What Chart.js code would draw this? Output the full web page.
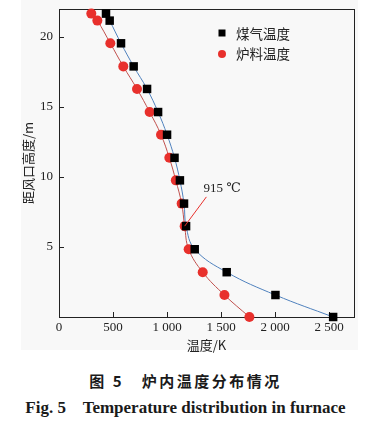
<!DOCTYPE html>
<html>
<head>
<meta charset="utf-8">
<script src="https://cdn.jsdelivr.net/npm/chart.js@4.4.1/dist/chart.umd.min.js"></script>
<style>
  html, body { margin: 0; padding: 0; background: #fff; width: 371px; height: 426px; overflow: hidden; }
  #bg { position: absolute; left: 21px; top: 0; width: 337px; height: 350px; background: #f8f8f8; }
  #wrap { position: absolute; left: 0; top: 0; width: 371px; height: 355px; }
  .cap1 { position: absolute; left: 0; width: 371px; top: 370px; text-align: center;
          font: bold 15px "Noto Sans CJK SC", sans-serif; color: #1a1a1a; letter-spacing: 2.5px; }
  .cap2 { position: absolute; left: 0; width: 371px; top: 398px; text-align: center;
          font: bold 17px "Liberation Serif", serif; color: #1a1a1a; white-space: pre; }
</style>
</head>
<body>
<div id="bg"></div>
<div id="wrap"><canvas id="c" width="371" height="355"></canvas></div>
<div class="cap1">图 5&nbsp;&nbsp;&nbsp;炉内温度分布情况</div>
<div class="cap2">Fig. 5    Temperature distribution in furnace</div>
<script>
// Data
const heights    = [21.67, 21.17, 19.55, 17.90, 16.29, 14.64, 13.02, 11.37, 9.76, 8.10, 6.49, 4.84, 3.20, 1.57, 0];
const gasTemp    = [435, 469, 574, 691, 815, 917, 1000, 1069, 1119, 1157, 1176, 1256, 1552, 2003, 2537];
const burdenTemp = [299, 355, 475, 595, 722, 839, 944, 1021, 1081, 1135, 1163, 1200, 1330, 1531, 1762];
const seriesNames = ['煤气温度', '炉料温度'];
const xTicks = [0, 500, 1000, 1500, 2000, 2500];
const yTicks = [5, 10, 15, 20];
const annotationText = '915 ℃';

const gasPts = heights.map((h, i) => ({ x: gasTemp[i], y: h }));
const burPts = heights.map((h, i) => ({ x: burdenTemp[i], y: h }));

function fmt(v) {
  if (v >= 1000) return Math.floor(v / 1000) + ' ' + String(v % 1000).padStart(3, '0');
  return String(v);
}

const framePlugin = {
  id: 'frame',
  beforeDatasetsDraw(chart) {
    const { ctx, chartArea: a, scales } = chart;
    ctx.save();
    ctx.strokeStyle = '#222';
    ctx.lineWidth = 1;
    ctx.strokeRect(Math.round(a.left) + 0.5, Math.round(a.top) + 0.5,
                   Math.round(a.right - a.left), Math.round(a.bottom - a.top));
    ctx.beginPath();
    xTicks.forEach(v => {
      if (v === 0) return;
      const px = Math.round(scales.x.getPixelForValue(v)) + 0.5;
      ctx.moveTo(px, a.bottom); ctx.lineTo(px, a.bottom - 5);
    });
    yTicks.forEach(v => {
      const py = Math.round(scales.y.getPixelForValue(v)) + 0.5;
      ctx.moveTo(a.left, py); ctx.lineTo(a.left + 5, py);
    });
    ctx.stroke();
    ctx.restore();
  },
  afterDraw(chart) {
    const { ctx, chartArea: a, scales } = chart;
    ctx.save();
    // annotation for 915 ℃
    const p0x = scales.x.getPixelForValue(burdenTemp[10]);
    const p0y = scales.y.getPixelForValue(heights[10]);
    const p1x = scales.x.getPixelForValue(1364);
    const p1y = scales.y.getPixelForValue(8.58);
    ctx.strokeStyle = '#e8302c';
    ctx.lineWidth = 1;
    ctx.beginPath(); ctx.moveTo(p0x, p0y); ctx.lineTo(p1x, p1y); ctx.stroke();
    ctx.fillStyle = '#222';
    ctx.font = '13px "Liberation Serif", "DejaVu Serif", serif';
    ctx.textBaseline = 'middle';
    ctx.textAlign = 'left';
    ctx.fillText(annotationText, p1x - 3, p1y - 8);

    // legend
    const lx = a.left + 163, ly1 = a.top + 24, ly2 = a.top + 45;
    ctx.fillStyle = '#000';
    ctx.fillRect(lx - 3.5, ly1 - 3.5, 7, 7);
    ctx.fillStyle = '#e8302c';
    ctx.beginPath(); ctx.arc(lx, ly2, 4, 0, Math.PI * 2); ctx.fill();
    ctx.fillStyle = '#222';
    ctx.font = '13.5px "Noto Sans CJK SC", sans-serif';
    ctx.fillText(seriesNames[0], lx + 14, ly1 + 1);
    ctx.fillText(seriesNames[1], lx + 14, ly2);
    ctx.restore();
  }
};

new Chart(document.getElementById('c'), {
  type: 'scatter',
  data: {
    datasets: [
      {
        label: seriesNames[0], data: gasPts, showLine: true,
        borderColor: '#4f81bd', borderWidth: 1, tension: 0.4, clip: false,
        pointStyle: 'rect', pointRadius: 6, pointBackgroundColor: '#000', pointBorderColor: '#000', pointBorderWidth: 0
      },
      {
        label: seriesNames[1], data: burPts, showLine: true,
        borderColor: '#c0504d', borderWidth: 1, tension: 0.4, clip: false,
        pointStyle: 'circle', pointRadius: 5, pointBackgroundColor: '#e8302c', pointBorderColor: '#e8302c', pointBorderWidth: 0
      }
    ]
  },
  options: {
    responsive: false, animation: false, devicePixelRatio: 1,
    layout: { padding: { left: 18, top: 9, right: 17, bottom: 0 } },
    plugins: { legend: { display: false }, tooltip: { enabled: false } },
    scales: {
      x: {
        type: 'linear', min: 0, max: 2730,
        grid: { display: false, drawTicks: false }, border: { display: false },
        afterBuildTicks(s) { s.ticks = xTicks.map(v => ({ value: v })); },
        afterFit(s) { s.height = 38; s.paddingLeft = 0; s.paddingRight = 0; },
        ticks: { padding: 3, color: '#222', font: { family: '"Liberation Serif", serif', size: 13 }, callback: v => fmt(v) },
        title: { display: true, text: '温度/K', color: '#222', padding: { top: 0, bottom: 2 },
                 font: { family: '"Noto Sans CJK SC", sans-serif', size: 13 } }
      },
      y: {
        type: 'linear', min: 0, max: 22,
        grid: { display: false, drawTicks: false }, border: { display: false },
        afterBuildTicks(s) { s.ticks = yTicks.map(v => ({ value: v })); },
        afterFit(s) { s.width = 41; s.paddingTop = 0; s.paddingBottom = 0; },
        ticks: { padding: 6, color: '#222', font: { family: '"Liberation Serif", serif', size: 13 } },
        title: { display: true, text: '距风口高度/m', color: '#222', padding: { top: 2, bottom: 0 },
                 font: { family: '"Noto Sans CJK SC", sans-serif', size: 13 } }
      }
    }
  },
  plugins: [framePlugin]
});
</script>
</body>
</html>
